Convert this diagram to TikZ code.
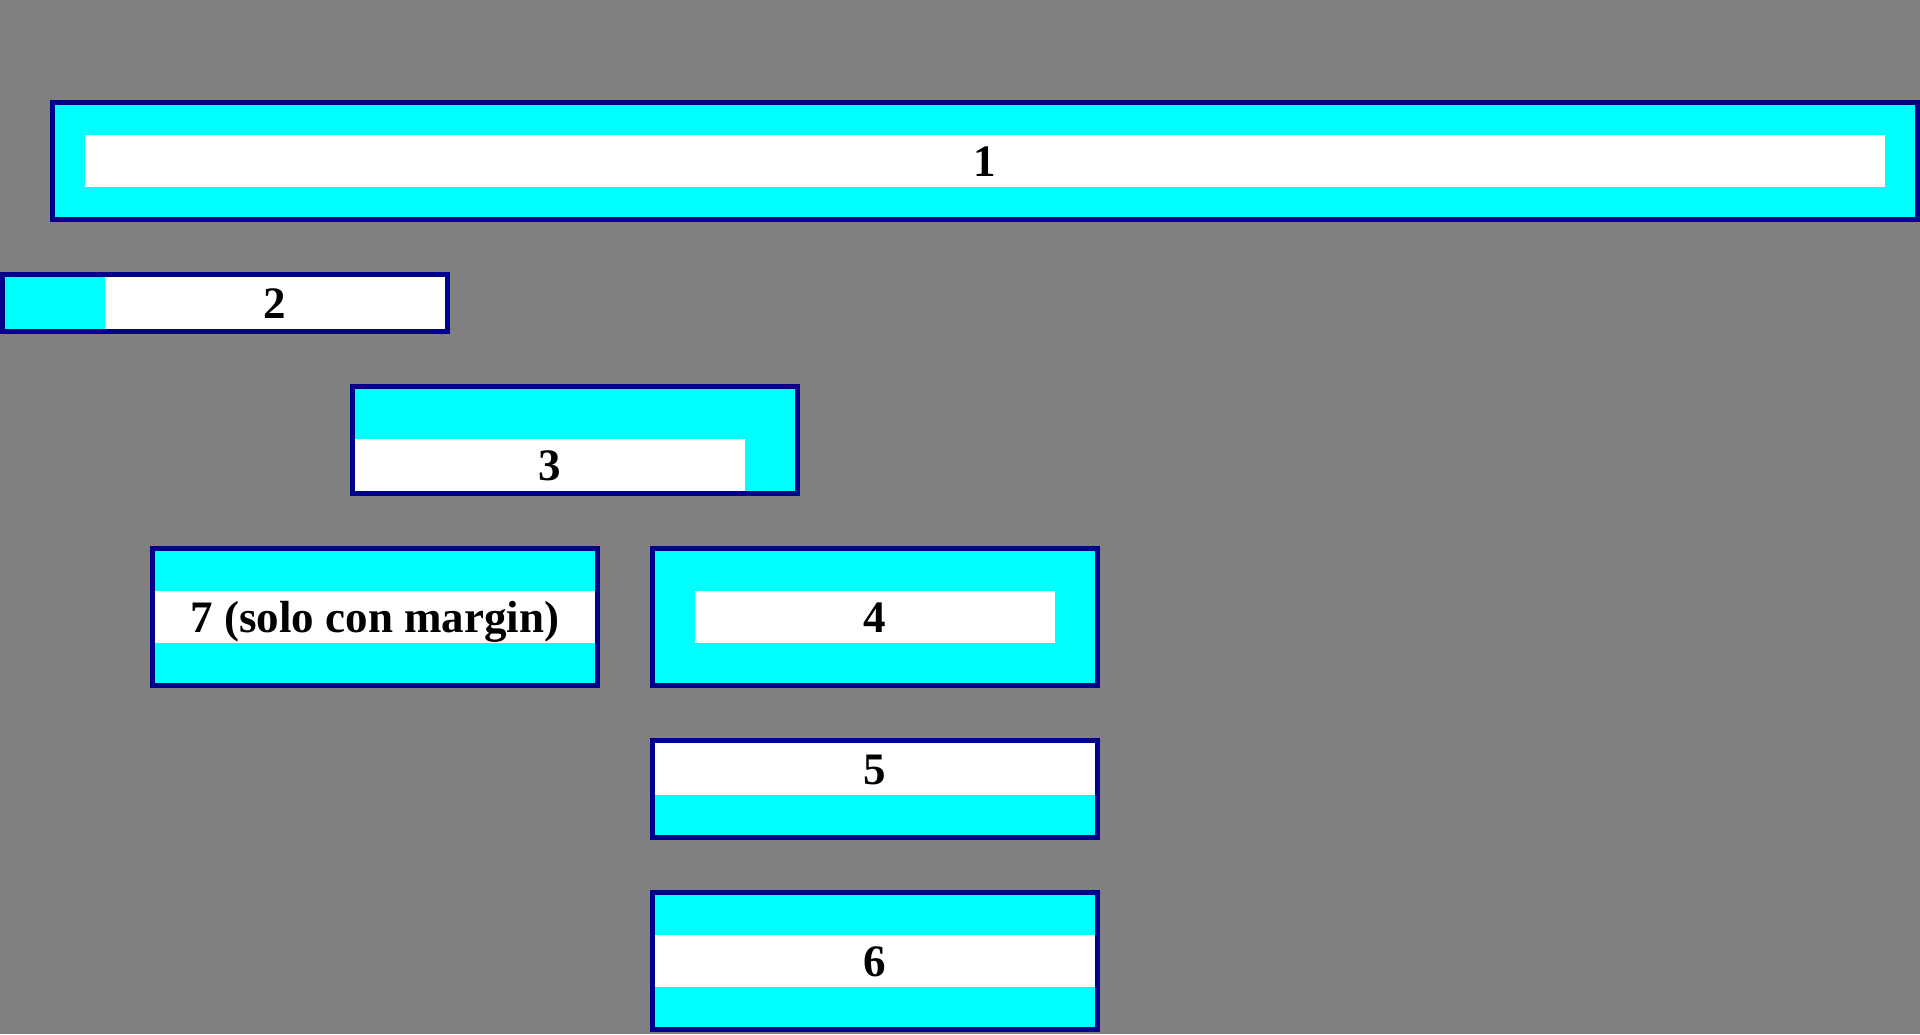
\documentclass[tikz,border=0pt]{standalone}
\usepackage{fontspec}
\setmainfont{Liberation Serif}
\definecolor{bg}{HTML}{808080}
\definecolor{aqua}{HTML}{00FFFF}
\definecolor{bord}{HTML}{00008B}
\tikzset{
  outerbox/.style={draw=bord, line width=2.5pt},
  padfill/.style={fill=aqua},
  contentfill/.style={fill=white},
  lbl/.style={anchor=base, inner sep=0pt, font=\bfseries\fontsize{22.5}{27}\selectfont, text=black}
}
\begin{document}
\begin{tikzpicture}[x=0.5pt,y=-0.5pt]
\useasboundingbox (0,0) rectangle (1920,1034);
\fill[bg] (0,0) rectangle (1920,1034);
% Box 1
\fill[padfill] (55,105) rectangle (1915,217);
\fill[contentfill] (85,135) rectangle (1885,187);
\draw[outerbox] (52.5,102.5) rectangle (1917.5,219.5);
\node[lbl] (t1) at (985,176) {1};
% Box 2
\fill[padfill] (5,277) rectangle (445,329);
\fill[contentfill] (105,277) rectangle (445,329);
\draw[outerbox] (2.5,274.5) rectangle (447.5,331.5);
\node[lbl] (t2) at (275,318) {2};
% Box 3
\fill[padfill] (355,389) rectangle (795,491);
\fill[contentfill] (355,439) rectangle (745,491);
\draw[outerbox] (352.5,386.5) rectangle (797.5,493.5);
\node[lbl] (t3) at (550,480) {3};
% Box 7
\fill[padfill] (155,551) rectangle (595,683);
\fill[contentfill] (155,591) rectangle (595,643);
\draw[outerbox] (152.5,548.5) rectangle (597.5,685.5);
\node[lbl] (t7) at (375,632) {7 (solo con margin)};
% Box 4
\fill[padfill] (655,551) rectangle (1095,683);
\fill[contentfill] (695,591) rectangle (1055,643);
\draw[outerbox] (652.5,548.5) rectangle (1097.5,685.5);
\node[lbl] (t4) at (875,632) {4};
% Box 5
\fill[padfill] (655,743) rectangle (1095,835);
\fill[contentfill] (655,743) rectangle (1095,795);
\draw[outerbox] (652.5,740.5) rectangle (1097.5,837.5);
\node[lbl] (t5) at (875,784) {5};
% Box 6
\fill[padfill] (655,895) rectangle (1095,1027);
\fill[contentfill] (655,935) rectangle (1095,987);
\draw[outerbox] (652.5,892.5) rectangle (1097.5,1029.5);
\node[lbl] (t6) at (875,976) {6};
\end{tikzpicture}
\end{document}
